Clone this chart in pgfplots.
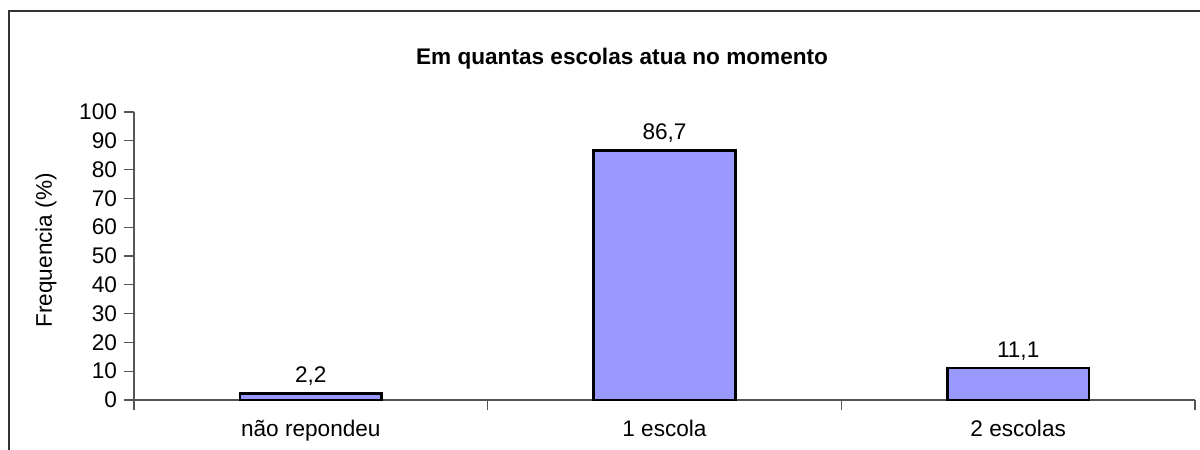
\documentclass[border=0pt]{standalone}
\usepackage{fontspec}
\setmainfont{Liberation Sans}
\usepackage{pgfplots}
\pgfplotsset{compat=1.18}
\definecolor{barfill}{HTML}{9999FF}
\definecolor{axisgray}{HTML}{555555}

\begin{document}
\begin{tikzpicture}
% 1 px of the reference = 0.5pt, origin at the axis corner
\path[use as bounding box] (-67pt,-25pt) rectangle (533pt,200pt);
\draw[black!80, line width=0.6pt] (-62.5pt,-25pt) -- (-62.5pt,194.5pt) -- (533pt,194.5pt);
\begin{axis}[
  at={(0,0)}, anchor=south west,
  scale only axis,
  width=530.5pt, height=144pt,
  ymin=0, ymax=100,
  ytick={0,10,...,100},
  xmin=-0.5, xmax=2.5,
  xtick={0,1,2},
  xticklabels={não repondeu, 1 escola, 2 escolas},
  xtick style={draw=none},
  ytick style={draw=axisgray, line width=0.6pt},
  extra x ticks={-0.5,0.5,1.5,2.5},
  extra x tick labels={},
  extra x tick style={xtick style={draw=axisgray, line width=0.6pt}},
  axis lines*=left,
  axis line style={draw=axisgray, line width=0.6pt},
  tick align=outside,
  major tick length=5pt,
  xticklabel shift=1.5pt,
  /pgf/number format/assume math mode=true,
  tick label style={font=\fontsize{11.3}{13}\selectfont},
  ylabel={Frequencia (\%)},
  ylabel style={font=\fontsize{11.3}{13}\selectfont, at={(rel axis cs:-0.083,0.52)}, anchor=center},
  title={\bfseries Em quantas escolas atua no momento},
  title style={font=\fontsize{11.3}{13}\selectfont, at={(rel axis cs:0.46,1)}, anchor=base, yshift=18pt},
  ybar,
  bar width=0.4,
  nodes near coords,
  every node near coord/.append style={font=\fontsize{11.3}{13}\selectfont,
    /pgf/number format/use comma, /pgf/number format/fixed,
    /pgf/number format/precision=1, /pgf/number format/fixed zerofill},
]
\addplot[fill=barfill, draw=black, line width=1.3pt] coordinates {(0,2.2) (1,86.7) (2,11.1)};
\end{axis}
\end{tikzpicture}
\end{document}
